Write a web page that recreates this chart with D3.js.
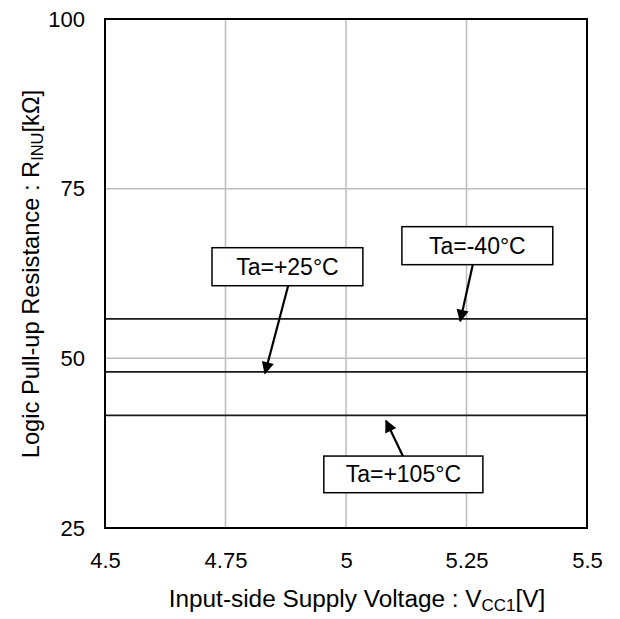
<!DOCTYPE html>
<html>
<head>
<meta charset="utf-8">
<script src="https://cdn.jsdelivr.net/npm/d3@7"></script>
<style>
  body { margin: 0; background: #fff; }
  svg { display: block; font-family: "Liberation Sans", Arial, sans-serif; }
</style>
</head>
<body>
<svg id="chart" width="620" height="619"></svg>
<script>
// Supply voltage range and resistance tick values
const xTicks = [4.5, 4.75, 5, 5.25, 5.5];
const yTicks = [25, 50, 75, 100];

// Pull-up resistance per ambient temperature (flat across VCC1)
const series = [
  { name: "Ta=-40°C",  values: [[4.5, 55.8], [5.5, 55.8]] },
  { name: "Ta=+25°C",  values: [[4.5, 48.0], [5.5, 48.0]] },
  { name: "Ta=+105°C", values: [[4.5, 41.6], [5.5, 41.6]] }
];

// Callout labels: box corners [x0, yTop, x1, yBottom], arrow start and tip, all in data units
const callouts = [
  { text: "Ta=+25°C",  box: [4.722, 66.3, 5.035, 60.7], from: [4.880, 60.7], tip: [4.832, 47.8] },
  { text: "Ta=-40°C",  box: [5.116, 69.4, 5.429, 63.8], from: [5.263, 63.8], tip: [5.237, 55.5] },
  { text: "Ta=+105°C", box: [4.954, 35.6, 5.284, 30.2], from: [5.118, 35.6], tip: [5.083, 40.8] }
];

const svg = d3.select("#chart");
const m = { left: 105, top: 19, right: 587, bottom: 528 };
const FONT = "Liberation Sans, Arial, sans-serif";

const x = d3.scaleLinear().domain([4.5, 5.5]).range([m.left, m.right]);
const y = d3.scaleLinear().domain([25, 100]).range([m.bottom, m.top]);

svg.append("defs").append("marker")
  .attr("id", "arrow")
  .attr("viewBox", "0 0 10 10")
  .attr("refX", 9).attr("refY", 5)
  .attr("markerWidth", 6.2).attr("markerHeight", 5.6)
  .attr("markerUnits", "strokeWidth")
  .attr("orient", "auto")
  .append("path").attr("d", "M0,0 L10,5 L0,10 z").attr("fill", "#000");

// Grid
const grid = svg.append("g");
grid.selectAll("line.vx").data(xTicks.slice(1, -1)).join("line")
  .attr("x1", d => x(d)).attr("x2", d => x(d))
  .attr("y1", m.top).attr("y2", m.bottom)
  .attr("stroke", "#bdbdbd").attr("stroke-width", 1.5);
grid.selectAll("line.hy").data(yTicks.slice(1, -1)).join("line")
  .attr("y1", d => y(d)).attr("y2", d => y(d))
  .attr("x1", m.left).attr("x2", m.right)
  .attr("stroke", "#bdbdbd").attr("stroke-width", 1.5);

// Data lines
const line = d3.line().x(d => x(d[0])).y(d => y(d[1]));
svg.append("g").selectAll("path").data(series).join("path")
  .attr("d", d => line(d.values))
  .attr("fill", "none").attr("stroke", "#1a1a1a").attr("stroke-width", 1.8);

// Frame
svg.append("rect")
  .attr("x", m.left).attr("y", m.top)
  .attr("width", m.right - m.left).attr("height", m.bottom - m.top)
  .attr("fill", "none").attr("stroke", "#000").attr("stroke-width", 2);

// Axis tick labels
const xAxis = d3.axisBottom(x).tickValues(xTicks).tickSize(0).tickPadding(29)
  .tickFormat(d => String(d));
const gx = svg.append("g").attr("transform", `translate(0,${m.bottom})`).call(xAxis);
gx.select(".domain").remove();
gx.selectAll("text").attr("font-size", 22).attr("fill", "#000")
  .attr("font-family", FONT).attr("dy", "0.5em");

const yAxis = d3.axisLeft(y).tickValues(yTicks).tickSize(0).tickPadding(20)
  .tickFormat(d => String(d));
const gy = svg.append("g").attr("transform", `translate(${m.left},0)`).call(yAxis);
gy.select(".domain").remove();
gy.selectAll("text").attr("font-size", 22).attr("fill", "#000")
  .attr("font-family", FONT);

// Axis titles
const xt = svg.append("text")
  .attr("transform", `translate(357,607) scale(1.06,1)`)
  .attr("text-anchor", "middle").attr("font-size", 23).attr("fill", "#000");
xt.append("tspan").text("Input-side Supply Voltage : V");
xt.append("tspan").attr("font-size", 16).attr("dy", 4).text("CC1");
xt.append("tspan").attr("dy", -4).text("[V]");

const yt = svg.append("text")
  .attr("transform", `translate(39,274) rotate(-90) scale(1.03,1)`)
  .attr("text-anchor", "middle").attr("font-size", 23).attr("fill", "#000");
yt.append("tspan").text("Logic Pull-up Resistance : R");
yt.append("tspan").attr("font-size", 16).attr("dy", 4).text("INU");
yt.append("tspan").attr("dy", -4).text("[kΩ]");

// Callouts
const cg = svg.append("g").selectAll("g").data(callouts).join("g");
cg.append("line")
  .attr("x1", d => x(d.from[0])).attr("y1", d => y(d.from[1]))
  .attr("x2", d => x(d.tip[0])).attr("y2", d => y(d.tip[1]))
  .attr("stroke", "#000").attr("stroke-width", 2.2)
  .attr("marker-end", "url(#arrow)");
cg.append("rect")
  .attr("x", d => x(d.box[0])).attr("y", d => y(d.box[1]))
  .attr("width", d => x(d.box[2]) - x(d.box[0]))
  .attr("height", d => y(d.box[3]) - y(d.box[1]))
  .attr("fill", "#fff").attr("stroke", "#000").attr("stroke-width", 1.5);
cg.append("text")
  .attr("x", d => (x(d.box[0]) + x(d.box[2])) / 2)
  .attr("y", d => (y(d.box[1]) + y(d.box[3])) / 2 + 8)
  .attr("text-anchor", "middle").attr("font-size", 23).attr("fill", "#000")
  .attr("font-family", FONT)
  .text(d => d.text);
</script>
</body>
</html>
